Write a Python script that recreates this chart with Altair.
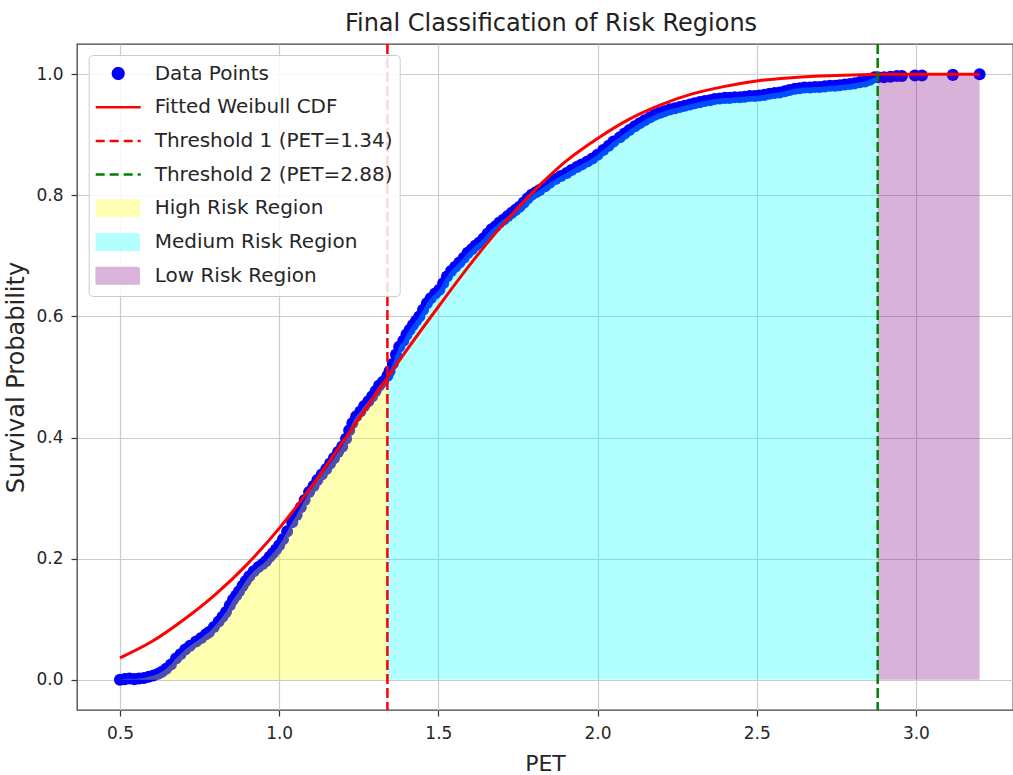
import altair as alt
import pandas as pd

# ---- data ----
# empirical survival points (PET, probability)
data_points = [
    (0.50, 0.000), (0.515, 0.001), (0.53, 0.002), (0.545, 0.001), (0.56, 0.002), (0.575, 0.003),
    (0.59, 0.005), (0.605, 0.007), (0.62, 0.010), (0.632, 0.013), (0.645, 0.018), (0.66, 0.025),
    (0.676, 0.035), (0.69, 0.042), (0.705, 0.050), (0.72, 0.056), (0.739, 0.063), (0.755, 0.069),
    (0.77, 0.075), (0.78, 0.079), (0.795, 0.087), (0.81, 0.096), (0.822, 0.104), (0.833, 0.112),
    (0.845, 0.123), (0.855, 0.132), (0.865, 0.139), (0.874, 0.146), (0.885, 0.155), (0.895, 0.163),
    (0.906, 0.171), (0.92, 0.179), (0.935, 0.186), (0.948, 0.191), (0.959, 0.196), (0.97, 0.203),
    (0.98, 0.209), (0.99, 0.215), (1.0, 0.222), (1.012, 0.232), (1.025, 0.245), (1.041, 0.260),
    (1.055, 0.272), (1.068, 0.285), (1.08, 0.297), (1.094, 0.310), (1.108, 0.320), (1.12, 0.330),
    (1.134, 0.339), (1.148, 0.348), (1.16, 0.357), (1.172, 0.366), (1.185, 0.376), (1.198, 0.385),
    (1.21, 0.398), (1.22, 0.412), (1.23, 0.424), (1.242, 0.435), (1.255, 0.443), (1.267, 0.452),
    (1.28, 0.460), (1.292, 0.468), (1.303, 0.477), (1.314, 0.486), (1.326, 0.492), (1.34, 0.502),
    (1.347, 0.510), (1.357, 0.522), (1.367, 0.537), (1.377, 0.550), (1.39, 0.560), (1.40, 0.570),
    (1.41, 0.578), (1.42, 0.586), (1.43, 0.593), (1.44, 0.600), (1.452, 0.611), (1.464, 0.622),
    (1.476, 0.630), (1.49, 0.638), (1.503, 0.644), (1.515, 0.655), (1.527, 0.666), (1.54, 0.675),
    (1.553, 0.682), (1.566, 0.689), (1.58, 0.697), (1.592, 0.705), (1.605, 0.711), (1.617, 0.717),
    (1.629, 0.722), (1.642, 0.729), (1.655, 0.737), (1.667, 0.744), (1.68, 0.749), (1.692, 0.755),
    (1.705, 0.760), (1.718, 0.766), (1.73, 0.771), (1.742, 0.776), (1.755, 0.781), (1.768, 0.788),
    (1.78, 0.795), (1.793, 0.801), (1.806, 0.805), (1.818, 0.809), (1.835, 0.815), (1.85, 0.821),
    (1.868, 0.827), (1.885, 0.832), (1.903, 0.837), (1.918, 0.842), (1.935, 0.847), (1.95, 0.851),
    (1.968, 0.856), (1.984, 0.861), (2.0, 0.867), (2.018, 0.875), (2.035, 0.882), (2.05, 0.889),
    (2.07, 0.896), (2.085, 0.902), (2.10, 0.908), (2.117, 0.914), (2.132, 0.919), (2.148, 0.924),
    (2.165, 0.929), (2.18, 0.933), (2.195, 0.936), (2.21, 0.939), (2.227, 0.942), (2.243, 0.944),
    (2.258, 0.946), (2.274, 0.948), (2.29, 0.950), (2.305, 0.952), (2.321, 0.954), (2.337, 0.956),
    (2.353, 0.957), (2.368, 0.959), (2.384, 0.960), (2.40, 0.961), (2.415, 0.961), (2.431, 0.962),
    (2.447, 0.962), (2.462, 0.963), (2.478, 0.964), (2.494, 0.964), (2.509, 0.965), (2.525, 0.966),
    (2.54, 0.968), (2.556, 0.969), (2.572, 0.970), (2.588, 0.972), (2.603, 0.974), (2.62, 0.976),
    (2.635, 0.977), (2.65, 0.978), (2.667, 0.978), (2.683, 0.979), (2.698, 0.979), (2.714, 0.980),
    (2.73, 0.981), (2.746, 0.981), (2.761, 0.982), (2.777, 0.983), (2.793, 0.984), (2.808, 0.985),
    (2.824, 0.987), (2.84, 0.988), (2.855, 0.991), (2.87, 0.995), (2.88, 0.995), (2.90, 0.995),
    (2.92, 0.996), (2.94, 0.997), (2.956, 0.997), (2.997, 0.998), (3.019, 0.998), (3.116, 0.999),
    (3.20, 1.000),
]
pet_values = [p[0] for p in data_points]
survival_prob = [p[1] for p in data_points]

# fitted Weibull CDF
weibull_pet = [0.50, 0.60, 0.70, 0.80, 0.90, 1.00, 1.10, 1.20, 1.30, 1.40, 1.50, 1.60, 1.70,
               1.80, 1.90, 2.00, 2.10, 2.20, 2.30, 2.40, 2.50, 2.60, 2.70, 2.80, 2.90, 3.00, 3.20]
weibull_cdf = [0.036, 0.063, 0.099, 0.141, 0.191, 0.250, 0.318, 0.393, 0.469, 0.544, 0.616, 0.686, 0.750,
               0.807, 0.856, 0.894, 0.926, 0.950, 0.968, 0.980, 0.989, 0.994, 0.997, 0.999, 1.000, 1.000, 1.000]

threshold_names = ["Threshold 1 (PET=1.34)", "Threshold 2 (PET=2.88)"]
threshold_values = [1.34, 2.88]
threshold_colors = ["#ff0000", "#008000"]

x_ticks = [0.5, 1.0, 1.5, 2.0, 2.5, 3.0]
y_ticks = [0.0, 0.2, 0.4, 0.6, 0.8, 1.0]

legend_items = ["Data Points", "Fitted Weibull CDF", "Threshold 1 (PET=1.34)", "Threshold 2 (PET=2.88)",
                "High Risk Region", "Medium Risk Region", "Low Risk Region"]
legend_fills = ["#0000ff", "rgba(0,0,0,0)", "rgba(0,0,0,0)", "rgba(0,0,0,0)", "#ffffb3", "#b3ffff", "#d9b3d9"]
legend_strokes = ["#0000ff", "#ff0000", "#ff0000", "#008000", "#ffffb3", "#b3ffff", "#d9b3d9"]
legend_dashes = [[1, 0], [1, 0], [9, 5], [9, 5], [1, 0], [1, 0], [1, 0]]
circle_path = ("M-1.15,-0.78M3.35,0.78M0.57,0A0.53,0.53,0,1,0,1.63,0A0.53,0.53,0,1,0,0.57,0Z")
line_path = "M-1.15,-0.78M3.35,0.78M-1.15,0L3.35,0"
box_path = "M-1.05,-0.78L3.15,-0.78L3.15,0.78L-1.05,0.78Z"
legend_shapes = [circle_path, line_path, line_path, line_path, box_path, box_path, box_path]

# ---- tables ----
pts = pd.DataFrame({"PET": pet_values, "prob": survival_prob})
fit = pd.DataFrame({"PET": weibull_pet, "cdf": weibull_cdf})
thr = pd.DataFrame({"name": threshold_names, "PET": threshold_values})
leg = pd.DataFrame({"item": legend_items})

FONT = "DejaVu Sans"
x_scale = alt.Scale(domain=[0.365, 3.305], nice=False, zero=False)
y_scale = alt.Scale(domain=[-0.05, 1.05], nice=False, zero=False)

x_axis = alt.Axis(values=x_ticks, format=".1f", title="PET", labelPadding=9, labelFlush=False,
                  titleY=60, titleBaseline="alphabetic", titleFontSize=22)
y_axis = alt.Axis(values=y_ticks, format=".1f", title="Survival Probability", labelPadding=8,
                  titleX=-54, titleY=333, titleAngle=270, titleAlign="center",
                  titleBaseline="alphabetic", titleFontSize=24)

points = alt.Chart(pts).mark_circle(size=145, color="#0000ff", opacity=1).encode(
    x=alt.X("PET:Q", scale=x_scale, axis=x_axis),
    y=alt.Y("prob:Q", scale=y_scale, axis=y_axis),
)


def region(lo, hi, color):
    return alt.Chart(pts).transform_filter(
        (alt.datum.PET >= lo) & (alt.datum.PET <= hi)
    ).mark_area(color=color, opacity=0.3).encode(
        x=alt.X("PET:Q", scale=x_scale),
        y=alt.Y("prob:Q", scale=y_scale),
        y2=alt.Y2(datum=0),
    )


high = region(0.0, 1.34, "#ffff00")
medium = region(1.34, 2.88, "#00ffff")
low = region(2.88, 4.0, "#800080")

fit_line = alt.Chart(fit).mark_line(color="#ff0000", strokeWidth=3, interpolate="monotone").encode(
    x=alt.X("PET:Q", scale=x_scale),
    y=alt.Y("cdf:Q", scale=y_scale),
)

rules = alt.Chart(thr).mark_rule(strokeWidth=2.5, strokeDash=[10, 4]).encode(
    x=alt.X("PET:Q", scale=x_scale),
    color=alt.Color("name:N", scale=alt.Scale(domain=threshold_names, range=threshold_colors), legend=None),
)

legend_def = alt.Legend(title=None, orient="none", legendX=11.7, legendY=11)
legend_layer = alt.Chart(leg).transform_filter("false").mark_point(opacity=1).encode(
    fill=alt.Fill("item:N", scale=alt.Scale(domain=legend_items, range=legend_fills), legend=legend_def),
    stroke=alt.Stroke("item:N", scale=alt.Scale(domain=legend_items, range=legend_strokes), legend=legend_def),
    shape=alt.Shape("item:N", scale=alt.Scale(domain=legend_items, range=legend_shapes), legend=legend_def),
    strokeDash=alt.StrokeDash("item:N", scale=alt.Scale(domain=legend_items, range=legend_dashes),
                              legend=legend_def),
)

chart = alt.layer(points, high, medium, low, fit_line, rules, legend_layer).properties(
    width=936,
    height=666,
    title=alt.TitleParams("Final Classification of Risk Regions", font=FONT, fontSize=24,
                          fontWeight="normal", color="#222222", anchor="middle", frame="group",
                          offset=14, baseline="alphabetic", dx=6, dy=26),
    autosize=alt.AutoSizeParams(type="none"),
    padding={"left": 77, "top": 44, "right": 0, "bottom": 65},
).configure_view(
    stroke="#444444", strokeWidth=1.3
).configure_axis(
    labelFont=FONT, labelFontSize=17, labelColor="#262626",
    titleFont=FONT, titleFontWeight="normal", titleColor="#262626",
    tickColor="#333333", tickSize=6, tickWidth=1.2, domain=False,
    grid=True, gridColor="#cccccc", gridWidth=1.2,
).configure_legend(
    labelFont=FONT, labelFontSize=20, labelColor="#262626", labelLimit=400,
    symbolSize=400, symbolStrokeWidth=2.5, symbolOpacity=1, labelOffset=36, rowPadding=6.7,
    padding=7, strokeColor="#cccccc", fillColor="rgba(255,255,255,0.85)", cornerRadius=4,
)

chart.save("out.html", embed_options={"renderer": "svg", "actions": False})
